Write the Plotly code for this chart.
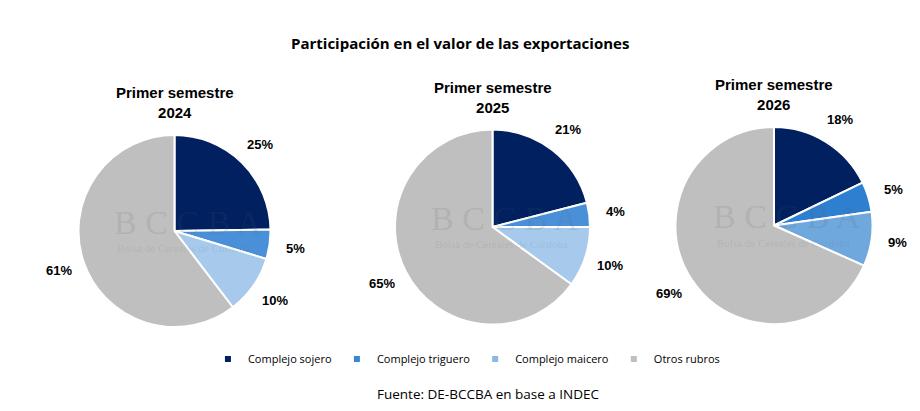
import math
import plotly.graph_objects as go

# ---- data ----
categories = ["Complejo sojero", "Complejo triguero", "Complejo maicero", "Otros rubros"]
periods = ["Primer semestre<br>2024", "Primer semestre<br>2025", "Primer semestre<br>2026"]
shares_2024 = [25, 5, 10, 61]
shares_2025 = [21, 4, 10, 65]
shares_2026 = [18, 5, 9, 69]
title_text = "Participación en el valor de las exportaciones"
source_text = "Fuente: DE-BCCBA en base a INDEC"

# ---- styles ----
colors_a = ["#002060", "#4A90D9", "#A6C9EC", "#BFBFBF"]
colors_b = ["#002060", "#2E7FD0", "#6FA8DC", "#BFBFBF"]
legend_colors = ["#002060", "#3A86D6", "#8DB8E6", "#BFBFBF"]

W, H = 920, 411
# pie centre (px) and radius (px)
pie_geom = [(174.5, 231, 96), (492.5, 227, 97.5), (774, 225.5, 98.5)]
series = [shares_2024, shares_2025, shares_2026]
pie_colors = [colors_a, colors_a, colors_b]

fig = go.Figure()
annotations = []

for (cx, cy, r), vals, cols, per in zip(pie_geom, series, pie_colors, periods):
    dom_x = [(cx - r) / W, (cx + r) / W]
    dom_y = [1 - (cy + r) / H, 1 - (cy - r) / H]
    fig.add_trace(go.Pie(
        labels=categories, values=vals, sort=False, direction="clockwise",
        rotation=0, textinfo="none", hoverinfo="label+value",
        marker=dict(colors=cols, line=dict(color="white", width=2)),
        domain=dict(x=dom_x, y=dom_y), showlegend=False,
    ))
    total = sum(vals)
    cum = 0
    for v in vals:
        mid = (cum + v / 2) / total * 2 * math.pi
        cum += v
        k = 1.27
        lx = cx + k * r * math.sin(mid)
        ly = cy - k * r * math.cos(mid)
        annotations.append(dict(
            x=lx / W, y=1 - ly / H, xref="paper", yref="paper",
            text=f"<b>{v}%</b>", showarrow=False, xanchor="center", yanchor="middle",
            font=dict(family="Liberation Sans", size=13, color="#000000"),
        ))
    # subplot title
    annotations.append(dict(
        x=cx / W, y=1 - (cy - r - 12) / H, xref="paper", yref="paper",
        text=f"<b>{per}</b>", showarrow=False, xanchor="center", yanchor="bottom",
        font=dict(family="Liberation Sans", size=15, color="#000000"),
    ))
    # watermark
    annotations.append(dict(
        x=(cx + 13) / W, y=1 - (cy - 9) / H, xref="paper", yref="paper",
        text="B C C B A", showarrow=False, xanchor="center", yanchor="middle",
        font=dict(family="Liberation Serif", size=34, color="rgba(90,90,90,0.15)"),
    ))
    annotations.append(dict(
        x=(cx + 9) / W, y=1 - (cy + 17) / H, xref="paper", yref="paper",
        text="Bolsa de Cereales de Córdoba", showarrow=False, xanchor="center", yanchor="middle",
        font=dict(family="Liberation Serif", size=11, color="rgba(90,90,90,0.13)"),
    ))

# legend via marker-only traces
for name, col in zip(categories, legend_colors):
    fig.add_trace(go.Scatter(
        x=[None], y=[None], mode="markers", name=name,
        marker=dict(symbol="square", size=6, color=col),
    ))

annotations.append(dict(
    x=0.5, y=1 - 43 / H, xref="paper", yref="paper", text=f"<b>{title_text}</b>",
    showarrow=False, xanchor="center", yanchor="middle",
    font=dict(family="Open Sans", size=15, color="#000000"),
))
annotations.append(dict(
    x=488 / W, y=1 - 394 / H, xref="paper", yref="paper", text=source_text,
    showarrow=False, xanchor="center", yanchor="middle",
    font=dict(family="Open Sans", size=13.5, color="#000000"),
))

fig.update_layout(
    width=W, height=H, margin=dict(l=0, r=0, t=0, b=0),
    paper_bgcolor="white", plot_bgcolor="white",
    xaxis=dict(visible=False), yaxis=dict(visible=False),
    annotations=annotations,
    legend=dict(orientation="h", x=0.507, xanchor="center", y=1 - 359 / H, yanchor="middle",
                font=dict(family="Open Sans", size=11, color="#000000"),
                itemwidth=30, bgcolor="rgba(0,0,0,0)"),
)

fig.write_html("out.html")
